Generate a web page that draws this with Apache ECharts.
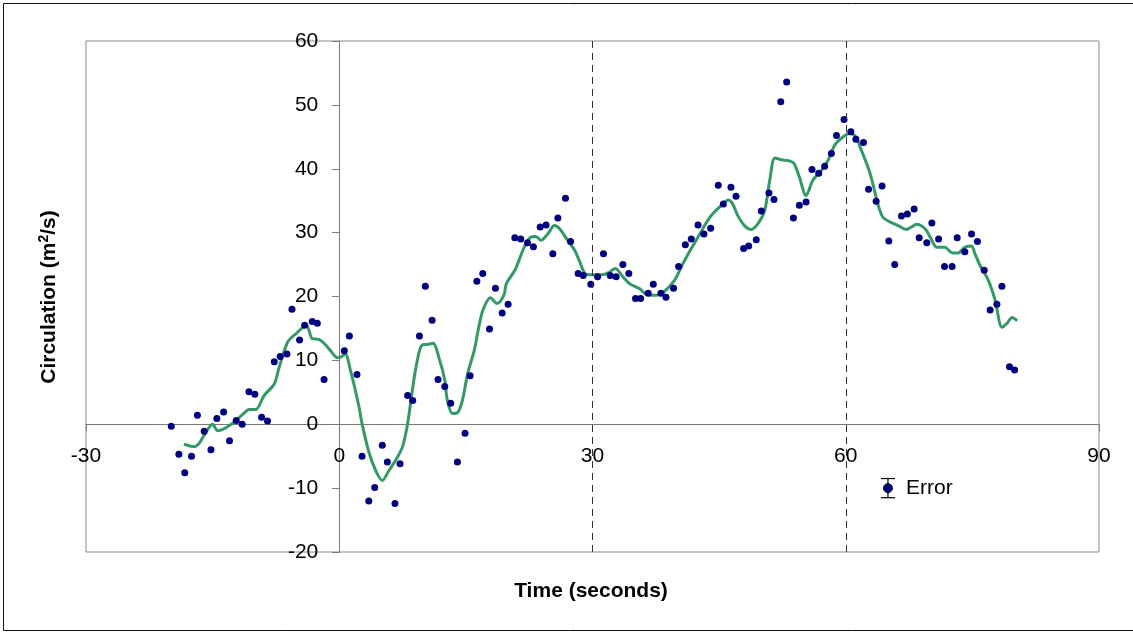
<!DOCTYPE html>
<html>
<head>
<meta charset="utf-8">
<title>Circulation vs Time</title>
<script src="https://cdn.jsdelivr.net/npm/echarts@6/dist/echarts.min.js"></script>
<style>
  html, body { margin: 0; padding: 0; background: #ffffff; }
  #chart { width: 1133px; height: 632px; }
</style>
</head>
<body>
<div id="chart"></div>
<script>
// Measured circulation samples
const timeSec = [
  -19.9, -19.0, -18.3, -17.5, -16.8, -16.0, -15.2, -14.5, -13.7, -13.0,
  -12.2, -11.5, -10.7, -10.0, -9.2, -8.5, -7.7, -7.0, -6.2, -5.6,
  -4.7, -4.1, -3.2, -2.6, -1.8, 0.6, 1.2, 2.1, 2.7, 3.5,
  4.2, 5.1, 5.7, 6.6, 7.2, 8.1, 8.7, 9.5, 10.2, 11.0,
  11.7, 12.5, 13.2, 14.0, 14.9, 15.5, 16.3, 17.0, 17.8, 18.5,
  19.3, 20.0, 20.8, 21.5, 22.3, 23.0, 23.8, 24.5, 25.3, 25.9,
  26.8, 27.4, 28.3, 28.9, 29.8, 30.6, 31.3, 32.1, 32.8, 33.6,
  34.3, 35.1, 35.7, 36.6, 37.2, 38.1, 38.7, 39.6, 40.2, 41.0,
  41.7, 42.5, 43.2, 44.0, 44.9, 45.5, 46.4, 47.0, 47.9, 48.5,
  49.4, 50.0, 50.9, 51.5, 52.3, 53.0, 53.8, 54.5, 55.3, 56.0,
  56.8, 57.5, 58.3, 58.9, 59.8, 60.6, 61.2, 62.1, 62.7, 63.6,
  64.3, 65.1, 65.8, 66.6, 67.3, 68.1, 68.7, 69.6, 70.2, 71.0,
  71.7, 72.6, 73.2, 74.1, 74.9, 75.6, 76.4, 77.1, 77.9, 78.5,
  79.4, 80.0
];
const circulation = [
  -0.3, -4.7, -7.6, -5.0, 1.4, -1.1, -4.0, 0.9, 1.9, -2.6,
  0.6, 0.0, 5.1, 4.7, 1.1, 0.5, 9.8, 10.6, 11.0, 18.0,
  13.2, 15.5, 16.1, 15.8, 7.0, 11.5, 13.8, 7.8, -5.0, -12.0,
  -9.9, -3.3, -5.9, -12.4, -6.2, 4.5, 3.7, 13.8, 21.6, 16.3,
  7.0, 5.9, 3.3, -5.9, -1.4, 7.6, 22.4, 23.6, 14.9, 21.3,
  17.4, 18.8, 29.2, 29.0, 28.4, 27.8, 30.9, 31.2, 26.7, 32.3,
  35.4, 28.6, 23.6, 23.3, 21.9, 23.1, 26.7, 23.3, 23.1, 25.0,
  23.6, 19.7, 19.7, 20.5, 21.9, 20.5, 19.9, 21.3, 24.7, 28.1,
  29.0, 31.2, 29.8, 30.7, 37.4, 34.5, 37.1, 35.7, 27.5, 27.9,
  28.9, 33.4, 36.2, 35.2, 50.5, 53.6, 32.3, 34.3, 34.8, 39.9,
  39.3, 40.4, 42.4, 45.2, 47.7, 45.8, 44.6, 44.1, 36.8, 34.9,
  37.3, 28.7, 25.0, 32.6, 32.9, 33.7, 29.2, 28.4, 31.5, 29.0,
  24.7, 24.7, 29.2, 27.0, 29.8, 28.6, 24.1, 17.9, 18.8, 21.6,
  9.0, 8.5
];

// Smoothed trend curve
const smoothTime = [
  -18.4, -17.2, -16.6, -16.0, -15.0, -14.4, -13.8, -12.7, -11.3, -10.7,
  -9.9, -8.9, -7.7, -7.1, -6.1, -5.1, -3.9, -3.2, -2.4, -1.4,
  -0.4, 0.0, 0.7, 1.3, 2.3, 2.7, 3.5, 4.3, 5.1, 5.9,
  6.7, 7.5, 8.1, 8.5, 9.1, 9.8, 10.5, 11.1, 11.9, 12.5,
  12.8, 13.4, 14.0, 14.6, 15.2, 16.0, 16.5, 17.0, 17.9, 18.7,
  19.5, 19.8, 20.8, 21.3, 21.9, 22.7, 23.3, 23.9, 24.7, 25.5,
  26.1, 26.9, 27.9, 28.5, 29.1, 29.8, 31.2, 32.0, 32.7, 33.6,
  34.4, 35.6, 36.2, 37.0, 38.0, 38.7, 39.7, 40.7, 41.7, 42.5,
  43.9, 45.3, 46.1, 46.6, 47.2, 48.0, 48.8, 49.6, 50.4, 51.0,
  51.6, 52.4, 53.4, 53.9, 54.5, 55.3, 56.1, 57.1, 57.9, 58.7,
  59.7, 60.5, 61.2, 61.7, 62.7, 63.2, 63.8, 64.4, 65.2, 66.2,
  67.2, 67.8, 68.4, 69.4, 70.0, 70.8, 71.7, 72.7, 73.3, 74.1,
  74.9, 75.3, 75.9, 76.9, 77.7, 78.5, 79.1, 79.7, 80.3
];
const smoothCirc = [
  -3.1, -3.5, -3.0, -1.7, 0.0, -1.0, -0.8, 0.1, 1.7, 2.3,
  2.3, 4.5, 6.3, 9.0, 12.9, 14.2, 15.5, 13.4, 13.3, 12.1,
  10.5, 10.4, 11.0, 8.6, 3.0, 0.1, -4.3, -7.2, -8.8, -7.2,
  -5.6, -3.5, 0.1, 3.8, 9.0, 12.4, 12.5, 12.7, 10.0, 6.9,
  3.8, 1.7, 1.8, 3.8, 7.9, 11.6, 15.0, 17.8, 19.8, 18.9,
  20.2, 22.0, 24.1, 25.7, 27.7, 29.3, 29.4, 28.8, 29.8, 31.1,
  30.6, 29.1, 27.2, 25.4, 23.6, 23.4, 23.4, 23.8, 24.4, 23.1,
  22.0, 21.2, 20.5, 20.2, 20.3, 21.0, 22.5, 25.1, 27.5, 29.3,
  32.4, 34.3, 35.1, 34.5, 32.7, 31.1, 30.5, 31.4, 33.5, 38.2,
  41.7, 41.4, 41.2, 40.8, 38.7, 35.8, 38.2, 39.7, 41.3, 43.7,
  45.0, 45.5, 45.0, 43.4, 40.0, 37.7, 34.5, 32.4, 31.7, 31.1,
  30.5, 30.9, 31.3, 30.6, 29.3, 27.7, 27.7, 26.8, 26.8, 27.7,
  27.9, 26.7, 24.9, 22.5, 19.4, 15.2, 15.8, 16.7, 16.2
];

// Representative error bar
const errorTime = [65];
const errorCirc = [-10];
const errorHalf = [1.5];

// Axis ticks and reference times
const xTicks = { min: -30, max: 90, step: 30 };
const yTicks = { min: -20, max: 60, step: 10 };
const referenceTimes = [30, 60];

const FONT = '"Liberation Sans", Arial, sans-serif';
const NAVY = '#000080';
const GREEN = '#339966';
const AXIS_GREY = '#7a7a7a';

const pointData = timeSec.map((t, i) => [t, circulation[i]]);
const curveData = smoothTime.map((t, i) => [t, smoothCirc[i]]);
const errorData = errorTime.map((t, i) => [t, errorCirc[i], errorHalf[i]]);

const chart = echarts.init(document.getElementById('chart'), null, { renderer: 'canvas' });

const axisCommon = {
  type: 'value',
  axisLine: { show: true, onZero: false, lineStyle: { color: AXIS_GREY, width: 1 } },
  axisTick: { show: true, length: 7, lineStyle: { color: AXIS_GREY } },
  axisLabel: { color: '#000', fontSize: 21, fontFamily: FONT, margin: 21 },
  splitLine: { show: false }
};

chart.setOption({
  backgroundColor: '#ffffff',
  animation: false,
  textStyle: { fontFamily: FONT },
  grid: {
    left: 86, top: 41, right: 34, bottom: 80,
    show: true, borderColor: '#8a8a8a', borderWidth: 1, backgroundColor: 'transparent'
  },
  xAxis: Object.assign({}, axisCommon, {
    position: 'bottom',
    min: xTicks.min, max: xTicks.max, interval: xTicks.step
  }),
  yAxis: Object.assign({}, axisCommon, {
    position: 'left',
    min: yTicks.min, max: yTicks.max, interval: yTicks.step
  }),
  graphic: [
    {
      type: 'rect',
      shape: { x: 3.5, y: 3.5, width: 1140, height: 627 },
      style: { fill: 'none', stroke: '#111', lineWidth: 1 },
      silent: true
    },
    {
      type: 'text',
      x: 591, y: 591,
      style: {
        text: 'Time (seconds)',
        font: 'bold 21px ' + FONT,
        fill: '#000', align: 'center', verticalAlign: 'middle'
      }
    },
    {
      type: 'text',
      x: 49, y: 297,
      rotation: Math.PI / 2,
      style: {
        text: '{b|Circulation (m}{s|2}{b|/s)}',
        rich: {
          b: { fontSize: 21, fontWeight: 'bold', fontFamily: FONT, fill: '#000', lineHeight: 24 },
          s: { fontSize: 14, fontWeight: 'bold', fontFamily: FONT, fill: '#000', verticalAlign: 'top', lineHeight: 24 }
        },
        align: 'center', verticalAlign: 'middle'
      }
    }
  ],
  series: [
    {
      name: 'Smoothed',
      type: 'line',
      data: curveData,
      smooth: 0.3,
      showSymbol: false,
      symbol: 'none',
      lineStyle: { color: GREEN, width: 3 },
      z: 3
    },
    {
      name: 'Circulation',
      type: 'scatter',
      data: pointData,
      symbol: 'circle',
      symbolSize: 7,
      itemStyle: { color: NAVY, opacity: 1 },
      z: 4,
      markLine: {
        silent: true,
        symbol: ['none', 'none'],
        label: { show: false },
        lineStyle: { color: '#333', width: 1, type: [7, 5] },
        data: referenceTimes.map(t => ({ xAxis: t }))
      }
    },
    {
      name: 'Error',
      type: 'custom',
      data: errorData,
      z: 5,
      renderItem: function (params, api) {
        const t = api.value(0), v = api.value(1), h = api.value(2);
        const c = api.coord([t, v]);
        const top = api.coord([t, v + h]);
        const bot = api.coord([t, v - h]);
        const cap = 7;
        const stroke = { stroke: '#000', lineWidth: 1.2 };
        return {
          type: 'group',
          children: [
            { type: 'line', shape: { x1: c[0], y1: top[1], x2: c[0], y2: bot[1] }, style: stroke },
            { type: 'line', shape: { x1: c[0] - cap, y1: top[1], x2: c[0] + cap, y2: top[1] }, style: stroke },
            { type: 'line', shape: { x1: c[0] - cap, y1: bot[1], x2: c[0] + cap, y2: bot[1] }, style: stroke },
            { type: 'circle', shape: { cx: c[0], cy: c[1], r: 4.5 }, style: { fill: NAVY, stroke: '#000', lineWidth: 1 } },
            {
              type: 'text',
              x: c[0] + 18, y: c[1],
              style: { text: 'Error', font: '21px ' + FONT, fill: '#000', align: 'left', verticalAlign: 'middle' }
            }
          ]
        };
      }
    }
  ]
});

// Move both axes (line, ticks and labels) onto the zero crossing of the other axis
const origin = chart.convertToPixel({ gridIndex: 0 }, [0, 0]);
const corner = chart.convertToPixel({ gridIndex: 0 }, [xTicks.min, yTicks.min]);
chart.setOption({
  xAxis: { offset: -(corner[1] - origin[1]) },
  yAxis: { offset: -(origin[0] - corner[0]) }
});
</script>
</body>
</html>
